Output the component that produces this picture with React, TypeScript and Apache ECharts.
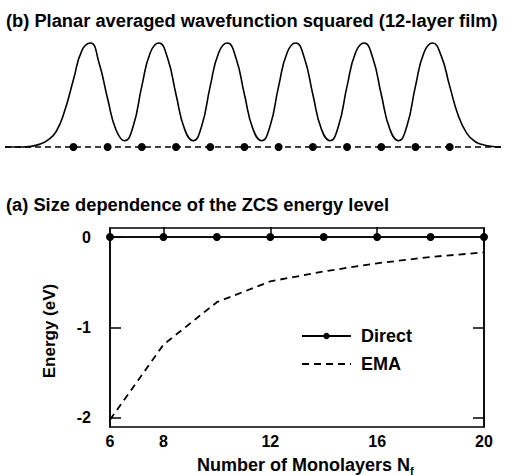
import React, { useEffect, useRef } from "react";
import * as echarts from "echarts";

// (a) size dependence of the ZCS energy level
const layerSizes = [6, 8, 10, 12, 14, 16, 18, 20];
const directEnergy = [0, 0, 0, 0, 0, 0, 0, 0];
const emaEnergy = [-2.02, -1.19, -0.72, -0.49, -0.38, -0.29, -0.22, -0.17];
const yTickValues = [0, -1, -2];
const yRightTickValues = [-1, -2];
const xLabelValues = [6, 8, 12, 16, 20];
const xTickValues = [8, 12, 16];

// (b) planar averaged wavefunction squared, 12-layer film
const atomLayers = [1, 2, 3, 4, 5, 6, 7, 8, 9, 10, 11, 12];
const wavePos = [
  -1, -0.75, -0.5, -0.25, 0, 0.25, 0.5, 0.75, 1, 1.25, 1.5, 1.75, 2, 2.25, 2.5, 2.75,
  3, 3.25, 3.5, 3.75, 4, 4.25, 4.5, 4.75, 5, 5.25, 5.5, 5.75, 6, 6.25, 6.5, 6.75,
  7, 7.25, 7.5, 7.75, 8, 8.25, 8.5, 8.75, 9, 9.25, 9.5, 9.75, 10, 10.25, 10.5, 10.75,
  11, 11.25, 11.5, 11.75, 12, 12.25, 12.5, 12.75, 13, 13.25, 13.5,
];
const waveVal = [
  0, 0, 0, 0.006, 0.025, 0.065, 0.15, 0.35, 0.64, 0.92, 0.99, 0.8, 0.46, 0.16, 0.06, 0.2,
  0.58, 0.9, 0.99, 0.85, 0.5, 0.17, 0.06, 0.2, 0.58, 0.9, 0.99, 0.85, 0.5, 0.17, 0.06, 0.2,
  0.58, 0.9, 0.99, 0.85, 0.5, 0.17, 0.06, 0.2, 0.58, 0.9, 0.99, 0.85, 0.5, 0.17, 0.06, 0.2,
  0.58, 0.9, 0.99, 0.87, 0.58, 0.3, 0.13, 0.05, 0.02, 0.005, 0,
];
const baselineRange = [-1, 13.5];

const FONT = "Liberation Sans";

export default function App() {
  const ref = useRef<HTMLDivElement>(null);
  useEffect(() => {
    if (!ref.current) return;
    const chart = echarts.init(ref.current, null, { renderer: "svg" });
    const txt = { color: "#000", fontFamily: FONT, fontWeight: "bold" as const };
    chart.setOption({
      animation: false,
      backgroundColor: "#fff",
      grid: [
        { left: 5, top: 42, width: 496, height: 105 },
        {
          left: 110,
          top: 228,
          width: 374,
          height: 199,
          show: true,
          borderColor: "#000",
          borderWidth: 1.5,
        },
      ],
      xAxis: [
        { gridIndex: 0, type: "value", min: baselineRange[0], max: baselineRange[1], show: false },
        {
          gridIndex: 1,
          type: "value",
          min: 6,
          max: 20,
          axisLine: { lineStyle: { color: "#000", width: 1.5 } },
          axisTick: {
            inside: true,
            length: 10,
            customValues: xTickValues,
            lineStyle: { color: "#000", width: 1.5 },
          },
          axisLabel: { ...txt, fontSize: 16, margin: 6, customValues: xLabelValues },
          splitLine: { show: false },
        },
      ],
      yAxis: [
        { gridIndex: 0, type: "value", min: 0, max: 1, show: false },
        {
          gridIndex: 1,
          type: "value",
          min: -2.1,
          max: 0.1,
          axisLine: { show: true, lineStyle: { color: "#000", width: 1.5 } },
          axisTick: {
            show: true,
            inside: true,
            length: 11,
            customValues: yTickValues,
            lineStyle: { color: "#000", width: 1.5 },
          },
          axisLabel: { ...txt, fontSize: 16, margin: 19, customValues: yTickValues },
          splitLine: { show: false },
        },
        {
          gridIndex: 1,
          type: "value",
          position: "right",
          min: -2.1,
          max: 0.1,
          axisLine: { show: true, lineStyle: { color: "#000", width: 1.5 } },
          axisTick: {
            show: true,
            inside: true,
            length: 11,
            customValues: yRightTickValues,
            lineStyle: { color: "#000", width: 1.5 },
          },
          axisLabel: { show: false },
          splitLine: { show: false },
        },
      ],
      legend: {
        orient: "vertical",
        left: 301,
        top: 327,
        padding: 0,
        itemWidth: 49,
        itemHeight: 8,
        itemGap: 10,
        data: ["Direct", { name: "EMA", itemStyle: { opacity: 0 } }],
        textStyle: { ...txt, fontSize: 18, padding: [0, 0, 0, 5] },
      },
      series: [
        {
          name: "wave",
          type: "line",
          xAxisIndex: 0,
          yAxisIndex: 0,
          data: wavePos.map((p, i) => [p, waveVal[i]]),
          smooth: 0.5,
          showSymbol: false,
          symbol: "none",
          clip: false,
          lineStyle: { color: "#000", width: 1.6 },
          z: 3,
        },
        {
          name: "baseline",
          type: "line",
          xAxisIndex: 0,
          yAxisIndex: 0,
          data: baselineRange.map((p) => [p, 0]),
          symbol: "none",
          clip: false,
          lineStyle: { color: "#000", width: 1.6, type: [6, 4] },
          z: 2,
        },
        {
          name: "atoms",
          type: "scatter",
          xAxisIndex: 0,
          yAxisIndex: 0,
          data: atomLayers.map((a) => [a, 0]),
          symbol: "circle",
          symbolSize: 8,
          clip: false,
          itemStyle: { color: "#000", opacity: 1 },
          z: 4,
        },
        {
          name: "Direct",
          type: "line",
          xAxisIndex: 1,
          yAxisIndex: 1,
          data: layerSizes.map((n, i) => [n, directEnergy[i]]),
          symbol: "circle",
          symbolSize: 8,
          clip: false,
          itemStyle: { color: "#000" },
          lineStyle: { color: "#000", width: 1.6 },
        },
        {
          name: "EMA",
          type: "line",
          xAxisIndex: 1,
          yAxisIndex: 1,
          data: layerSizes.map((n, i) => [n, emaEnergy[i]]),
          symbol: "none",
          clip: false,
          itemStyle: { color: "#000" },
          lineStyle: { color: "#000", width: 1.8, type: [7, 5] },
        },
      ],
      graphic: [
        {
          type: "text",
          x: 6,
          y: 20,
          style: {
            text: "(b) Planar averaged wavefunction squared (12-layer film)",
            fill: "#000",
            font: `bold 18.3px "${FONT}"`,
            textAlign: "left",
            textVerticalAlign: "middle",
          },
        },
        {
          type: "text",
          x: 6,
          y: 204,
          style: {
            text: "(a) Size dependence of the ZCS energy level",
            fill: "#000",
            font: `bold 18.3px "${FONT}"`,
            textAlign: "left",
            textVerticalAlign: "middle",
          },
        },
        {
          type: "text",
          x: 49,
          y: 331,
          rotation: Math.PI / 2,
          style: {
            text: "Energy (eV)",
            fill: "#000",
            font: `bold 17px "${FONT}"`,
            textAlign: "center",
            textVerticalAlign: "middle",
          },
        },
        {
          type: "text",
          x: 197,
          y: 465,
          style: {
            text: "{n|Number of Monolayers N}{s|f}",
            textAlign: "left",
            textVerticalAlign: "middle",
            rich: {
              n: { fill: "#000", fontFamily: FONT, fontWeight: "bold", fontSize: 18, lineHeight: 22 },
              s: {
                fill: "#000",
                fontFamily: FONT,
                fontWeight: "bold",
                fontSize: 11,
                lineHeight: 11,
                verticalAlign: "bottom",
              },
            },
          },
        },
      ],
    });
    return () => chart.dispose();
  }, []);
  return (
    <div
      ref={ref}
      style={{ position: "absolute", left: 0, top: 0, width: 508, height: 475 }}
    />
  );
}
